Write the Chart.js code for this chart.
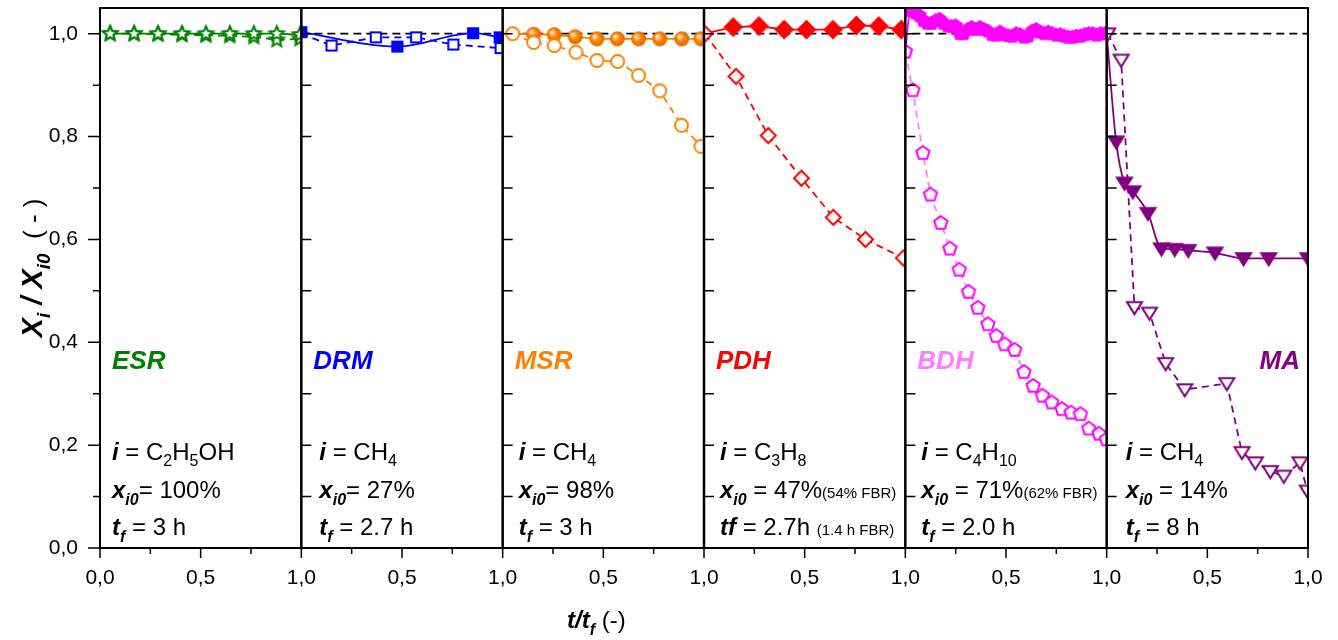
<!DOCTYPE html>
<html lang="en">
<head>
  <meta charset="UTF-8">
  <title>Xi / Xi0 frente a t/tf</title>
  <style>
    html, body { margin: 0; padding: 0; background: #fff; }
  </style>
</head>
<body>
  <canvas id="grafica" width="1338" height="640"></canvas>
  <script src="https://cdn.jsdelivr.net/npm/chart.js"></script>
  <script>
    // Datos (t/tf dentro de cada panel, Xi/Xi0)
    const paneles = ["ESR", "DRM", "MSR", "PDH", "BDH", "MA"];
    const xTickLabels = ["0,0", "0,5", "1,0"];

    const esrT = [0.05, 0.169, 0.288, 0.407, 0.526, 0.645, 0.764, 0.878, 0.993];
    const esrA = [1.0, 1.0, 1.0, 1.0, 1.0, 1.0, 1.0, 1.0, 0.998];
    const esrB = [1.0, 1.0, 0.999, 0.998, 0.997, 0.996, 0.994, 0.988, 0.99];

    const drmLlenoT = [0, 0.477, 0.853, 0.985];
    const drmLleno = [1.003, 0.975, 1.001, 0.993];
    const drmHuecoT = [0, 0.15, 0.37, 0.57, 0.755, 0.99];
    const drmHueco = [1.0, 0.977, 0.993, 0.993, 0.979, 0.972];

    const msrLlenoT = [0, 0.154, 0.256, 0.36, 0.468, 0.57, 0.675, 0.78, 0.89, 0.985];
    const msrLleno = [1.0, 0.999, 0.998, 0.994, 0.99, 0.99, 0.99, 0.99, 0.99, 0.99];
    const msrHuecoT = [0.05, 0.154, 0.256, 0.364, 0.468, 0.571, 0.675, 0.78, 0.888, 0.985];
    const msrHueco = [1.0, 0.983, 0.977, 0.964, 0.948, 0.946, 0.919, 0.889, 0.822, 0.781];

    const pdhLlenoT = [0, 0.145, 0.273, 0.398, 0.509, 0.641, 0.757, 0.868, 0.98];
    const pdhLleno = [1.0, 1.013, 1.015, 1.008, 1.008, 1.008, 1.016, 1.015, 1.008];
    const pdhHuecoT = [0.005, 0.159, 0.319, 0.484, 0.642, 0.802, 0.99];
    const pdhHueco = [1.0, 0.917, 0.802, 0.719, 0.643, 0.60, 0.564];

    const bdhLlenoT = [0, 0.02, 0.035, 0.05, 0.07, 0.09, 0.11, 0.13, 0.15, 0.17, 0.19, 0.21, 0.23, 0.25,
      0.27, 0.29, 0.31, 0.33, 0.35, 0.37, 0.39, 0.41, 0.43, 0.45, 0.47, 0.49, 0.51, 0.53, 0.55, 0.57,
      0.59, 0.61, 0.63, 0.65, 0.67, 0.69, 0.71, 0.73, 0.75, 0.77, 0.79, 0.81, 0.83, 0.85, 0.87, 0.89,
      0.91, 0.93, 0.95, 0.97, 0.99];
    const bdhLleno = [0.965, 1.045, 1.048, 1.04, 1.035, 1.025, 1.02, 1.02, 1.025, 1.028, 1.02, 1.015, 1.014, 1.015,
      1.0, 1.0, 1.008, 1.012, 1.008, 1.012, 1.008, 1.005, 0.998, 0.997, 1.003, 0.998, 0.996, 0.995, 1.0, 0.998,
      0.993, 0.995, 1.005, 1.008, 1.003, 1.0, 1.003, 1.0, 0.997, 0.998, 0.995, 0.993, 0.993, 0.995, 0.995, 0.998,
      1.0, 1.0, 0.997, 1.0, 1.0];
    const bdhHuecoT = [0, 0.037, 0.087, 0.125, 0.176, 0.221, 0.268, 0.314, 0.36, 0.41, 0.452, 0.493, 0.543,
      0.589, 0.635, 0.681, 0.727, 0.778, 0.823, 0.87, 0.911, 0.962, 0.998];
    const bdhHueco = [0.965, 0.89, 0.768, 0.687, 0.632, 0.582, 0.541, 0.498, 0.467, 0.435, 0.412, 0.396, 0.385,
      0.342, 0.315, 0.296, 0.283, 0.270, 0.263, 0.26, 0.232, 0.222, 0.211];

    const maLlenoT = [0, 0.047, 0.088, 0.13, 0.205, 0.272, 0.338, 0.405, 0.538, 0.68, 0.805, 1.0];
    const maLleno = [1.0, 0.79, 0.71, 0.693, 0.651, 0.582, 0.581, 0.579, 0.574, 0.563, 0.563, 0.563];
    const maHuecoT = [0.005, 0.072, 0.138, 0.213, 0.293, 0.388, 0.597, 0.672, 0.738, 0.813, 0.88, 0.96, 0.997];
    const maHueco = [1.0, 0.949, 0.468, 0.457, 0.359, 0.308, 0.32, 0.186, 0.166, 0.149, 0.14, 0.166, 0.111];

    // linea de referencia Xi/Xi0 = 1 (desde el panel DRM hasta el final)
    const refX = [1, 6];
    const refY = [1, 1];

    const FAM = 'Arial, "Liberation Sans", sans-serif';

    // Marcadores dibujados en un canvas aparte
    function marcador(forma, color, relleno, r, lw) {
      lw = lw || 2;
      const s = Math.ceil(2 * r + 2 * lw + 2);
      const c = document.createElement("canvas");
      c.width = s; c.height = s;
      const g = c.getContext("2d");
      g.translate(s / 2, s / 2);
      g.beginPath();
      if (forma === "star") {
        for (let k = 0; k < 10; k++) {
          const rad = k % 2 ? r * 0.45 : r;
          const a = -Math.PI / 2 + k * Math.PI / 5;
          g.lineTo(rad * Math.cos(a), rad * Math.sin(a));
        }
      } else if (forma === "pentagon") {
        for (let k = 0; k < 5; k++) {
          const a = -Math.PI / 2 + k * 2 * Math.PI / 5;
          g.lineTo(r * Math.cos(a), r * Math.sin(a));
        }
      } else if (forma === "square") {
        g.rect(-r * 0.85, -r * 0.85, r * 1.7, r * 1.7);
      } else if (forma === "diamond") {
        g.moveTo(0, -r); g.lineTo(r, 0); g.lineTo(0, r); g.lineTo(-r, 0);
      } else if (forma === "down") {
        g.moveTo(-r, -r * 0.7); g.lineTo(r, -r * 0.7); g.lineTo(0, r * 0.9);
      } else {
        g.arc(0, 0, r, 0, Math.PI * 2);
      }
      g.closePath();
      if (relleno === "ball") {
        const grad = g.createRadialGradient(-r * 0.35, -r * 0.35, r * 0.1, 0, 0, r);
        grad.addColorStop(0, "#ffe4c0");
        grad.addColorStop(0.5, color);
        grad.addColorStop(1, "#d96a00");
        g.fillStyle = grad;
        g.fill();
      } else {
        g.fillStyle = relleno ? color : "#ffffff";
        g.fill();
        g.lineWidth = lw;
        g.lineJoin = "miter";
        g.strokeStyle = color;
        g.stroke();
      }
      return c;
    }

    function serie(panel, ts, vs, color, marca, discontinua, extra) {
      return Object.assign({
        panel: panel,
        data: ts.map((t, i) => ({ x: panel + t, y: vs[i] })),
        showLine: true,
        borderColor: color,
        backgroundColor: color,
        borderWidth: 1.8,
        borderDash: discontinua ? [7, 5] : [],
        pointStyle: marca,
        pointRadius: 6,
        tension: 0
      }, extra || {});
    }
    const sinPrimero = { pointRadius: ctx => ctx.dataIndex === 0 ? 0 : 6 };

    const VERDE = "#008000", AZUL = "#0000ff", NARANJA = "#ff8000", ROJO = "#ff0000",
      MAGENTA = "#ff00ff", ROSA = "#ff80ff", MORADO = "#800080";

    const datasets = [
      serie(0, esrT, esrA, VERDE, marcador("star", VERDE, false, 7.5), false),
      serie(0, esrT, esrB, VERDE, marcador("star", VERDE, false, 7.5), true),
      serie(1, drmHuecoT, drmHueco, AZUL, marcador("square", AZUL, false, 6), true, sinPrimero),
      serie(1, drmLlenoT, drmLleno, AZUL, marcador("square", AZUL, true, 6), false, { cubicInterpolationMode: "monotone" }),
      serie(2, msrHuecoT, msrHueco, NARANJA, marcador("circle", NARANJA, false, 6.5), true),
      serie(2, msrLlenoT, msrLleno, NARANJA, marcador("circle", NARANJA, "ball", 7.5), false, sinPrimero),
      serie(3, pdhHuecoT, pdhHueco, ROJO, marcador("diamond", ROJO, false, 7.5), true),
      serie(3, pdhLlenoT, pdhLleno, ROJO, marcador("diamond", ROJO, true, 8.5), false, sinPrimero),
      serie(4, bdhHuecoT, bdhHueco, ROSA, marcador("pentagon", MAGENTA, false, 7), true),
      serie(4, bdhLlenoT, bdhLleno, MAGENTA, marcador("pentagon", MAGENTA, true, 6.5), false),
      serie(5, maHuecoT, maHueco, MORADO, marcador("down", MORADO, false, 7.5), true),
      serie(5, maLlenoT, maLleno, MORADO, marcador("down", MORADO, true, 7.5), false,
        Object.assign({ cubicInterpolationMode: "monotone" }, sinPrimero)),
      {
        data: refX.map((x, i) => ({ x: x, y: refY[i] })),
        showLine: true, borderColor: "#000", borderWidth: 1.8, borderDash: [8, 5],
        pointRadius: 0, order: 1
      }
    ];

    // Textos de cada panel (trozos: texto, estilo)
    const estilos = {
      bi: { font: "italic bold 24px " + FAM, dy: 0 },
      r: { font: "24px " + FAM, dy: 0 },
      sub: { font: "16px " + FAM, dy: 6 },
      bisub: { font: "italic bold 16px " + FAM, dy: 7 },
      small: { font: "15px " + FAM, dy: 0 },
      big: { font: "italic bold 29px " + FAM, dy: 0 },
      bigsub: { font: "italic bold 19px " + FAM, dy: 8 },
      r26: { font: "26px " + FAM, dy: 0 }
    };
    const coloresPanel = [VERDE, AZUL, NARANJA, ROJO, ROSA, MORADO];
    const textos = [
      [[["i", "bi"], [" = C", "r"], ["2", "sub"], ["H", "r"], ["5", "sub"], ["OH", "r"]],
       [["x", "bi"], ["i0", "bisub"], ["= 100%", "r"]],
       [["t", "bi"], ["f", "bisub"], [" = 3 h", "r"]]],
      [[["i", "bi"], [" = CH", "r"], ["4", "sub"]],
       [["x", "bi"], ["i0", "bisub"], ["= 27%", "r"]],
       [["t", "bi"], ["f", "bisub"], [" = 2.7 h", "r"]]],
      [[["i", "bi"], [" = CH", "r"], ["4", "sub"]],
       [["x", "bi"], ["i0", "bisub"], ["= 98%", "r"]],
       [["t", "bi"], ["f", "bisub"], [" = 3 h", "r"]]],
      [[["i", "bi"], [" = C", "r"], ["3", "sub"], ["H", "r"], ["8", "sub"]],
       [["x", "bi"], ["i0", "bisub"], [" = 47%", "r"], ["(54% FBR)", "small"]],
       [["tf", "bi"], [" = 2.7h ", "r"], ["(1.4 h FBR)", "small"]]],
      [[["i", "bi"], [" = C", "r"], ["4", "sub"], ["H", "r"], ["10", "sub"]],
       [["x", "bi"], ["i0", "bisub"], [" = 71%", "r"], ["(62% FBR)", "small"]],
       [["t", "bi"], ["f", "bisub"], [" = 2.0 h", "r"]]],
      [[["i", "bi"], [" = CH", "r"], ["4", "sub"]],
       [["x", "bi"], ["i0", "bisub"], [" = 14%", "r"]],
       [["t", "bi"], ["f", "bisub"], [" = 8 h", "r"]]]
    ];
    const sangria = [12, 18, 16, 16, 16, 19];

    function ancho(ctx, trozos) {
      let w = 0;
      for (const [txt, st] of trozos) { ctx.font = estilos[st].font; w += ctx.measureText(txt).width; }
      return w;
    }
    function escribir(ctx, x, y, trozos) {
      for (const [txt, st] of trozos) {
        ctx.font = estilos[st].font;
        ctx.fillText(txt, x, y + estilos[st].dy);
        x += ctx.measureText(txt).width;
      }
    }

    const marco = {
      id: "marco",
      beforeDatasetDraw(chart, args) {
        const ds = chart.data.datasets[args.index];
        if (ds.panel === undefined) return;
        const xs = chart.scales.x, a = chart.chartArea, ctx = chart.ctx;
        const x0 = xs.getPixelForValue(ds.panel), x1 = xs.getPixelForValue(ds.panel + 1);
        ctx.save();
        ctx.beginPath();
        ctx.rect(x0, a.top, x1 - x0, a.bottom - a.top);
        ctx.clip();
      },
      afterDatasetDraw(chart, args) {
        if (chart.data.datasets[args.index].panel === undefined) return;
        chart.ctx.restore();
      },
      afterDatasetsDraw(chart) {
        const ctx = chart.ctx, a = chart.chartArea, xs = chart.scales.x, ys = chart.scales.y;
        ctx.save();
        ctx.strokeStyle = "#000";
        ctx.lineWidth = 1.5;
        ctx.beginPath();
        for (let k = 0; k <= 10; k++) {
          const y = ys.getPixelForValue(k / 10);
          const len = k % 2 === 0 ? 12 : 7;
          ctx.moveTo(a.left - len, y); ctx.lineTo(a.left, y);
          if (k > 0) {
            for (let p = 1; p < paneles.length; p++) {
              const x = xs.getPixelForValue(p);
              ctx.moveTo(x, y); ctx.lineTo(x + 10, y);
            }
          }
        }
        for (let q = 0; q <= paneles.length * 4; q++) {
          const x = xs.getPixelForValue(q / 4);
          const len = q % 2 === 0 ? 10 : 6;
          ctx.moveTo(x, a.bottom); ctx.lineTo(x, a.bottom + len);
        }
        ctx.stroke();
        ctx.lineWidth = 2;
        ctx.strokeRect(a.left, a.top, a.right - a.left, a.bottom - a.top);
        ctx.lineWidth = 2.5;
        ctx.beginPath();
        for (let p = 1; p < paneles.length; p++) {
          const x = xs.getPixelForValue(p);
          ctx.moveTo(x, a.top); ctx.lineTo(x, a.bottom);
        }
        ctx.stroke();
        ctx.restore();
      },
      afterDraw(chart) {
        const ctx = chart.ctx, xs = chart.scales.x;
        ctx.save();
        ctx.textBaseline = "alphabetic";
        paneles.forEach((nombre, p) => {
          const x0 = xs.getPixelForValue(p);
          ctx.font = "italic bold 26px " + FAM;
          ctx.fillStyle = coloresPanel[p];
          if (p === paneles.length - 1) {
            ctx.textAlign = "right";
            ctx.fillText(nombre, xs.getPixelForValue(p + 1) - 8, 369);
            ctx.textAlign = "left";
          } else {
            ctx.fillText(nombre, x0 + 12, 369);
          }
          ctx.fillStyle = "#000";
          textos[p].forEach((linea, j) => escribir(ctx, x0 + sangria[p], 460 + j * 37.5, linea));
        });
        // titulo eje x
        escribir(ctx, 567, 628, [["t/t", "bi"], ["f", "bisub"], [" (-)", "r"]]);
        // titulo eje y
        const tituloY = [["X", "big"], ["i", "bigsub"], [" / X", "big"], ["i0", "bigsub"], ["  ( - )", "r26"]];
        ctx.translate(32, 268);
        ctx.rotate(-Math.PI / 2);
        escribir(ctx, -ancho(ctx, tituloY) / 2, 10, tituloY);
        ctx.restore();
      }
    };

    new Chart(document.getElementById("grafica").getContext("2d"), {
      type: "scatter",
      data: { datasets: datasets },
      options: {
        responsive: false,
        devicePixelRatio: 1,
        animation: false,
        events: [],
        layout: { padding: { left: 0, right: 30, top: 8, bottom: 0 } },
        plugins: { legend: { display: false }, tooltip: { enabled: false } },
        scales: {
          x: {
            type: "linear", min: 0, max: paneles.length,
            grid: { display: false, drawTicks: false },
            border: { display: false },
            ticks: {
              stepSize: 0.5, padding: 18, color: "#000",
              font: { family: FAM, size: 21 },
              callback: v => v === 0 ? xTickLabels[0] : (v % 1 === 0 ? xTickLabels[2] : xTickLabels[1])
            },
            afterFit: s => { s.height = 92; s.paddingLeft = 0; s.paddingRight = 0; }
          },
          y: {
            min: 0, max: 1.05,
            grid: { display: false, drawTicks: false },
            border: { display: false },
            ticks: {
              stepSize: 0.2, includeBounds: false, padding: 22, color: "#000",
              font: { family: FAM, size: 21 },
              callback: v => v.toFixed(1).replace(".", ",")
            },
            afterFit: s => { s.width = 100; s.paddingTop = 0; s.paddingBottom = 0; }
          }
        }
      },
      plugins: [marco]
    });
  </script>
</body>
</html>
